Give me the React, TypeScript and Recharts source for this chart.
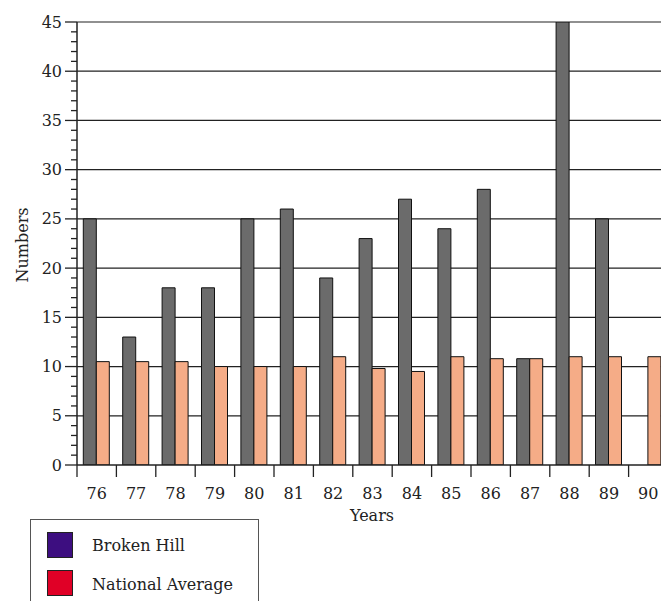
import React from "react";
import { BarChart, Bar, XAxis, YAxis, CartesianGrid } from "recharts";

const years = ["76", "77", "78", "79", "80", "81", "82", "83", "84", "85", "86", "87", "88", "89", "90"];
const brokenHill = [25, 13, 18, 18, 25, 26, 19, 23, 27, 24, 28, 10.8, 45, 25, 0];
const nationalAverage = [10.5, 10.5, 10.5, 10, 10, 10, 11, 9.8, 9.5, 11, 10.8, 10.8, 11, 11, 11];
const yTicks = Array.from({ length: 46 }, (_, i) => i);
const gridValues = [5, 10, 15, 20, 25, 30, 35, 40, 45];

const data = years.map((y, i) => ({ year: y, bh: brokenHill[i], na: nationalAverage[i] }));

const FONT = "'DejaVu Serif', serif";
const INK = "#222";

// y ticks: long marks with labels every 5, short marks every 1
const YTick = ({ x, y, payload }: any) => {
  const v = payload.value;
  const major = v % 5 === 0;
  return (
    <g>
      <line x1={major ? 65 : 71} x2={77} y1={y} y2={y} stroke={INK} strokeWidth={1.3} />
      {major && (
        <text x={62} y={y} dy={5.5} textAnchor="end" fontFamily={FONT} fontSize={16} fill={INK}>
          {v}
        </text>
      )}
    </g>
  );
};

// x ticks sit on the band edges, labels in the band centre
const XTick = ({ x, y, payload }: any) => {
  const half = payload.offset || 19.7;
  return (
    <g>
      <line x1={x - half} x2={x - half} y1={465} y2={477} stroke={INK} strokeWidth={1.3} />
      <text x={x} y={499} textAnchor="middle" fontFamily={FONT} fontSize={16} fill={INK}>
        {payload.value}
      </text>
    </g>
  );
};

const swatch = (color: string, top: number) => (
  <div style={{ position: "absolute", left: 16, top, width: 24, height: 24, background: color, border: "1px solid #222" }} />
);

export default function App() {
  return (
    <div style={{ position: "absolute", left: 0, top: 0, width: 661, height: 601, overflow: "hidden", background: "#fff" }}>
      <BarChart
        width={700}
        height={520}
        data={data}
        margin={{ top: 22, right: 32, left: 0, bottom: 0 }}
        barCategoryGap="16%"
        barGap={0}
      >
        <CartesianGrid horizontal vertical={false} horizontalValues={gridValues} stroke={INK} strokeWidth={1.2} />
        <XAxis
          dataKey="year"
          height={55}
          axisLine={{ stroke: INK, strokeWidth: 1.5 }}
          tickLine={false}
          tick={<XTick />}
          interval={0}
        />
        <YAxis
          width={77}
          domain={[0, 45]}
          ticks={yTicks}
          interval={0}
          allowDataOverflow
          axisLine={{ stroke: INK, strokeWidth: 1.5 }}
          tickLine={false}
          tick={<YTick />}
        />
        <Bar dataKey="bh" fill="#6b6b6b" stroke="#111" strokeWidth={1} isAnimationActive={false} />
        <Bar dataKey="na" fill="#f5ac87" stroke="#111" strokeWidth={1} isAnimationActive={false} />
      </BarChart>

      <div
        style={{
          position: "absolute", left: 22, top: 245, transform: "translate(-50%, -50%) rotate(-90deg)",
          fontFamily: FONT, fontSize: 16, color: INK, whiteSpace: "nowrap",
        }}
      >
        Numbers
      </div>
      <div
        style={{
          position: "absolute", left: 372, top: 515, transform: "translate(-50%, -50%)",
          fontFamily: FONT, fontSize: 16, color: INK, whiteSpace: "nowrap",
        }}
      >
        Years
      </div>

      <div style={{ position: "absolute", left: 30, top: 519, width: 227, height: 100, border: "1px solid #555", fontFamily: FONT, fontSize: 16, color: INK }}>
        {swatch("#3d0e80", 12)}
        <div style={{ position: "absolute", left: 61, top: 16 }}>Broken Hill</div>
        {swatch("#e00026", 50)}
        <div style={{ position: "absolute", left: 61, top: 55 }}>National Average</div>
      </div>
    </div>
  );
}
